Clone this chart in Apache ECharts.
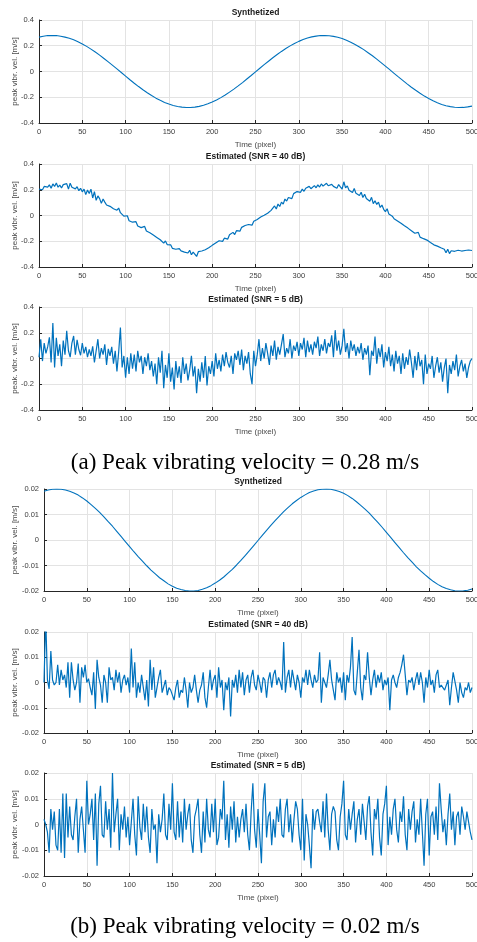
<!DOCTYPE html>
<html>
<head>
<meta charset="utf-8">
<script src="https://cdn.jsdelivr.net/npm/echarts@6/dist/echarts.min.js"></script>
<style>
  html, body { margin: 0; padding: 0; background: #fff; }
  #chart { width: 477px; height: 942px; }
</style>
</head>
<body>
<div id="chart"></div>
<script>
// ---------------- DATA ----------------
// sample spacing (pixel units along the time axis)
const synthStep = 5;
const estStep = 2;

const xTicks = [0, 50, 100, 150, 200, 250, 300, 350, 400, 450, 500];
const yTicksA = [-0.4, -0.2, 0, 0.2, 0.4];
const yTicksB = [-0.02, -0.01, 0, 0.01, 0.02];

const panelTitles = ["Synthetized", "Estimated (SNR = 40 dB)", "Estimated (SNR = 5 dB)",
                     "Synthetized", "Estimated (SNR = 40 dB)", "Estimated (SNR = 5 dB)"];
const yNames = ["peak vibr. vel. [m/s]", "peak vibr. vel. [m/s]", "peak. vibr. vel. [m/s]",
                "peak vibr. vel. [m/s]", "peak vibr. vel. [m/s]", "peak vibr. vel. [m/s]"];
const xName = "Time (pixel)";
const captions = ["(a) Peak vibrating velocity = 0.28 m/s", "(b) Peak vibrating velocity = 0.02 m/s"];

// (a) synthetized, 0.28 m/s, every 5 px
const synthA = [
  0.267, 0.274, 0.279, 0.280, 0.279, 0.274, 0.267, 0.258, 0.246, 0.231,
  0.214, 0.195, 0.174, 0.151, 0.127, 0.101, 0.075, 0.048, 0.020, -0.008,
  -0.036, -0.064, -0.091, -0.117, -0.142, -0.165, -0.187, -0.207, -0.224, -0.240,
  -0.253, -0.264, -0.272, -0.277, -0.280, -0.280, -0.277, -0.271, -0.262, -0.251,
  -0.237, -0.221, -0.203, -0.183, -0.160, -0.137, -0.112, -0.086, -0.058, -0.031,
  -0.003, 0.025, 0.053, 0.080, 0.107, 0.132, 0.156, 0.178, 0.199, 0.218,
  0.234, 0.248, 0.260, 0.269, 0.275, 0.279, 0.280, 0.278, 0.273, 0.266,
  0.256, 0.243, 0.228, 0.210, 0.191, 0.170, 0.146, 0.122, 0.096, 0.069,
  0.042, 0.014, -0.014, -0.042, -0.069, -0.096, -0.122, -0.146, -0.169, -0.191,
  -0.210, -0.228, -0.243, -0.256, -0.266, -0.273, -0.278, -0.280, -0.279, -0.275,
  -0.269
];

// (a) estimated, SNR = 40 dB, every 2 px
const est40A = [
  0.205, 0.218, 0.200, 0.226, 0.214,  0.221, 0.238, 0.212, 0.245, 0.226,
  0.252, 0.220, 0.236, 0.214, 0.240,  0.226, 0.248, 0.205, 0.251, 0.219,
  0.232, 0.207, 0.224, 0.193, 0.211,  0.184, 0.205, 0.162, 0.198, 0.171,
  0.204, 0.136, 0.185, 0.118, 0.152,  0.131, 0.094, 0.128, 0.104, 0.082,
  0.096, 0.071, 0.085, 0.052, 0.064,  0.041, 0.058, 0.022, 0.030, -0.005,
  -0.018, -0.002, -0.041, -0.030, -0.052,  -0.061, -0.048, -0.082, -0.070, -0.094,
  -0.098, -0.085, -0.121, -0.108, -0.134,  -0.139, -0.152, -0.143, -0.170, -0.161,
  -0.188, -0.176, -0.215, -0.198, -0.226,  -0.240, -0.228, -0.255, -0.249, -0.262,
  -0.268, -0.258, -0.275, -0.266, -0.284,  -0.279, -0.291, -0.270, -0.305, -0.284,
  -0.296, -0.318, -0.281, -0.292, -0.276,  -0.284, -0.266, -0.272, -0.251, -0.248,
  -0.232, -0.240, -0.214, -0.225, -0.196,  -0.188, -0.201, -0.176, -0.168, -0.183,
  -0.150, -0.162, -0.131, -0.148, -0.118,  -0.104, -0.122, -0.092, -0.101, -0.078,
  -0.088, -0.070, -0.062, -0.075, -0.045,  -0.048, -0.031, -0.040, -0.012, -0.020,
  0.002, -0.008, 0.018, 0.012, 0.040,  0.036, 0.074, 0.051, 0.089, 0.070,
  0.104, 0.088, 0.128, 0.112, 0.140,  0.152, 0.131, 0.170, 0.158, 0.186,
  0.194, 0.180, 0.205, 0.188, 0.212,  0.201, 0.226, 0.208, 0.219, 0.232,
  0.215, 0.238, 0.221, 0.245, 0.228,  0.222, 0.250, 0.231, 0.217, 0.242,
  0.226, 0.235, 0.212, 0.240, 0.222,  0.205, 0.262, 0.214, 0.230, 0.196,
  0.201, 0.178, 0.210, 0.172, 0.185,  0.156, 0.181, 0.140, 0.165, 0.132,
  0.128, 0.110, 0.141, 0.092, 0.115,  0.086, 0.104, 0.062, 0.081, 0.048,
  0.030, 0.052, 0.011, 0.024, -0.005,  -0.025, -0.012, -0.042, -0.036, -0.060,
  -0.071, -0.080, -0.066, -0.098, -0.110,  -0.118, -0.104, -0.138, -0.146, -0.131,
  -0.168, -0.156, -0.180, -0.172, -0.191,  -0.198, -0.210, -0.205, -0.228, -0.219,
  -0.238, -0.230, -0.251, -0.244, -0.262,  -0.290, -0.262, -0.296, -0.274, -0.285,
  -0.278, -0.292, -0.270, -0.284, -0.276,  -0.288, -0.272, -0.281, -0.268, -0.279,
  -0.272
];

// (a) estimated, SNR = 5 dB, every 2 px
const est5A = [
  0.010, 0.150, -0.020, 0.120, 0.040,  0.090, 0.165, -0.030, 0.275, -0.070,
  0.160, 0.020, 0.110, -0.060, 0.140,  0.030, 0.215, 0.060, 0.010, 0.120,
  0.175, 0.030, 0.145, 0.070, 0.025,  0.120, 0.040, 0.090, 0.010, 0.070,
  0.020, 0.095, -0.030, 0.060, 0.150,  0.000, 0.080, 0.030, 0.110, -0.050,
  0.075, 0.020, 0.090, -0.040, 0.060,  -0.100, 0.050, 0.240, -0.070, 0.020,
  -0.150, 0.010, -0.120, 0.040, -0.080,  0.030, -0.100, 0.060, -0.030, 0.020,
  -0.120, 0.010, -0.060, 0.040, -0.090,  -0.020, -0.140, -0.040, -0.200, 0.010,
  -0.110, 0.060, -0.230, -0.050, -0.150,  0.040, -0.180, -0.070, -0.240, -0.020,
  -0.150, -0.060, -0.190, 0.010, -0.120,  -0.040, -0.170, -0.090, 0.020, -0.140,
  -0.060, -0.270, -0.080, -0.180, -0.030,  -0.150, 0.020, -0.210, -0.060, -0.120,
  -0.020, -0.140, 0.040, -0.080, -0.010,  -0.100, 0.030, -0.060, 0.050, -0.030,
  -0.070, 0.020, -0.120, 0.040, -0.010,  0.060, -0.050, 0.070, -0.090, 0.020,
  -0.040, 0.050, -0.120, -0.200, 0.060,  -0.060, 0.030, 0.150, -0.020, 0.080,
  0.000, 0.120, 0.040, -0.050, 0.100,  0.020, 0.140, -0.010, 0.090, 0.030,
  0.110, 0.190, 0.010, 0.080, 0.040,  0.150, 0.000, 0.100, 0.060, 0.130,
  0.020, 0.120, 0.070, 0.160, 0.010,  0.140, 0.050, 0.110, 0.030, 0.130,
  0.080, 0.170, 0.020, 0.110, 0.060,  0.150, 0.040, 0.120, 0.090, 0.180,
  0.010, 0.220, 0.060, 0.140, 0.030,  0.100, 0.230, 0.050, 0.120, 0.000,
  0.140, 0.060, 0.110, 0.020, 0.090,  0.040, 0.120, -0.010, 0.080, 0.030,
  0.100, -0.130, 0.060, 0.020, 0.170,  -0.040, 0.080, 0.010, 0.110, -0.070,
  0.050, -0.020, 0.090, -0.060, 0.030,  -0.100, 0.060, -0.040, 0.020, -0.120,
  0.040, -0.080, 0.010, -0.050, 0.070,  -0.030, -0.150, 0.020, -0.090, 0.050,
  -0.060, -0.010, -0.200, 0.030, -0.120,  -0.040, -0.080, 0.020, -0.150, -0.060,
  0.010, -0.110, -0.030, -0.180, -0.070,  0.000, -0.270, -0.050, -0.120, -0.020,
  -0.090, 0.030, -0.140, -0.060, -0.010,  -0.100, -0.040, -0.150, -0.070, -0.020,
  0.000
];

// (b) synthetized, 0.02 m/s, every 5 px
const synthB = [
  0.0191, 0.0196, 0.0199, 0.0200, 0.0199, 0.0196, 0.0191, 0.0184, 0.0176, 0.0165,
  0.0153, 0.0139, 0.0124, 0.0108, 0.0091, 0.0072, 0.0054, 0.0034, 0.0014, -0.0006,
  -0.0026, -0.0046, -0.0065, -0.0083, -0.0101, -0.0118, -0.0133, -0.0148, -0.0160, -0.0172,
  -0.0181, -0.0189, -0.0194, -0.0198, -0.0200, -0.0200, -0.0198, -0.0193, -0.0187, -0.0179,
  -0.0169, -0.0158, -0.0145, -0.0130, -0.0115, -0.0098, -0.0080, -0.0061, -0.0042, -0.0022,
  -0.0002, 0.0018, 0.0038, 0.0057, 0.0076, 0.0094, 0.0111, 0.0127, 0.0142, 0.0155,
  0.0167, 0.0177, 0.0186, 0.0192, 0.0197, 0.0199, 0.0200, 0.0199, 0.0195, 0.0190,
  0.0183, 0.0174, 0.0163, 0.0150, 0.0136, 0.0121, 0.0105, 0.0087, 0.0069, 0.0050,
  0.0030, 0.0010, -0.0010, -0.0030, -0.0050, -0.0069, -0.0087, -0.0105, -0.0121, -0.0136,
  -0.0150, -0.0163, -0.0174, -0.0183, -0.0190, -0.0195, -0.0199, -0.0200, -0.0199, -0.0197,
  -0.0192
];

// (b) estimated, SNR = 40 dB, every 2 px
const est40B = [
  0.000, 0.026, 0.001, -0.0025, 0.0125,  0.001, -0.001, 0.000, 0.007, -0.001,
  0.005, 0.001, 0.003, -0.002, 0.008,  -0.006, 0.008, 0.001, -0.003, 0.000,
  0.0075, -0.008, 0.006, 0.002, 0.007,  0.000, 0.0015, -0.002, -0.005, 0.004,
  -0.0105, 0.009, 0.002, -0.001, -0.008,  0.003, 0.000, -0.008, 0.006, 0.001,
  0.002, -0.003, 0.005, 0.000, 0.004,  -0.004, 0.001, 0.003, -0.001, 0.002,
  -0.004, 0.0135, -0.002, 0.008, -0.006,  0.000, -0.004, 0.003, -0.002, -0.007,
  0.001, -0.0095, 0.009, -0.003, 0.006,  -0.006, -0.002, 0.002, 0.005, -0.004,
  -0.004, 0.001, -0.005, -0.002, -0.003,  -0.003, -0.007, -0.002, 0.001, -0.006,
  -0.003, -0.004, 0.002, -0.003, -0.010,  0.000, -0.004, -0.002, 0.003, -0.003,
  -0.008, -0.003, -0.001, 0.004, -0.006,  -0.010, -0.002, 0.005, -0.003, 0.001,
  0.003, -0.006, 0.006, -0.002, 0.001,  -0.011, 0.000, -0.003, 0.002, -0.0135,
  0.001, -0.002, 0.003, -0.004, 0.005,  -0.002, 0.004, -0.005, 0.001, 0.003,
  -0.004, 0.002, 0.005, -0.001, -0.003,  0.003, 0.000, -0.004, 0.002, 0.001,
  -0.006, 0.001, 0.004, -0.002, 0.003,  0.005, -0.001, 0.002, 0.000, -0.003,
  0.016, -0.004, 0.002, 0.005, -0.002,  0.005, 0.001, -0.003, 0.003, 0.000,
  -0.006, 0.002, 0.000, 0.005, -0.001,  0.005, 0.001, -0.002, 0.003, 0.000,
  0.001, 0.012, -0.008, 0.002, 0.000,  -0.002, 0.003, 0.009, 0.001, -0.003,
  -0.007, 0.004, 0.000, 0.002, -0.004,  0.004, -0.007, 0.003, 0.000, 0.006,
  0.018, -0.003, -0.005, 0.004, 0.013,  -0.002, -0.007, 0.003, 0.001, 0.012,
  0.002, -0.005, 0.001, 0.005, -0.002,  0.003, 0.000, 0.004, -0.003, 0.001,
  -0.001, 0.002, -0.011, 0.001, 0.003,  0.000, -0.002, 0.002, 0.004, 0.007,
  0.011, 0.003, -0.005, 0.001, 0.000,  0.002, -0.003, 0.001, 0.004, -0.001,
  0.004, 0.000, -0.008, 0.002, -0.002,  0.005, -0.001, 0.001, -0.004, 0.003,
  0.005, -0.002, -0.001, -0.002, -0.003,  -0.003, 0.001, -0.009, -0.002, 0.004,
  0.004, -0.003, -0.008, 0.000, -0.004,  -0.006, -0.002, -0.003, 0.000, -0.004,
  -0.002
];

// (b) estimated, SNR = 5 dB, every 2 px
const est5B = [
  0.002, 0.000, -0.003, -0.011, 0.006,  -0.002, 0.005, -0.008, -0.010, 0.006,
  -0.011, 0.012, -0.013, 0.012, -0.005,  0.007, -0.004, -0.006, 0.003, 0.010,
  -0.011, 0.002, 0.007, -0.002, -0.011,  0.017, 0.000, 0.004, 0.010, -0.006,
  0.012, -0.016, 0.008, 0.015, -0.004,  -0.005, 0.009, -0.002, 0.006, -0.009,
  0.020, -0.003, 0.004, 0.010, -0.010,  0.004, -0.002, 0.007, -0.005, 0.003,
  -0.008, 0.001, 0.010, -0.004, -0.012,  0.011, -0.001, -0.006, 0.008, -0.003,
  0.007, -0.005, -0.011, 0.006, -0.002,  0.000, -0.015, 0.004, -0.003, 0.002,
  0.012, -0.004, -0.006, 0.008, -0.002,  0.016, -0.003, -0.006, 0.009, -0.005,
  0.005, -0.007, 0.010, -0.002, 0.004,  0.008, -0.006, -0.011, 0.003, 0.006,
  0.010, -0.004, -0.011, 0.005, -0.007,  0.010, -0.002, -0.005, 0.008, -0.003,
  0.010, -0.008, -0.005, 0.006, 0.002,  0.017, -0.006, 0.004, -0.009, 0.007,
  -0.002, 0.009, -0.007, 0.003, -0.005,  0.002, 0.006, -0.003, 0.008, -0.004,
  -0.010, 0.005, 0.016, -0.002, -0.009,  0.006, -0.004, -0.015, 0.009, 0.016,
  -0.005, 0.003, 0.005, -0.008, 0.002,  -0.005, 0.007, 0.001, 0.010, -0.004,
  -0.005, 0.006, 0.010, -0.003, 0.004,  -0.007, 0.002, 0.009, 0.006, -0.004,
  -0.010, 0.010, -0.014, 0.004, 0.000,  -0.008, -0.017, 0.006, -0.002, 0.005,
  0.006, 0.001, -0.003, 0.009, -0.005,  0.012, -0.002, -0.010, 0.004, 0.007,
  0.005, -0.006, -0.010, 0.003, 0.008,  0.017, -0.004, -0.006, 0.006, -0.002,
  0.004, 0.009, -0.007, 0.002, 0.006,  -0.004, 0.008, 0.001, -0.006, 0.007,
  0.011, -0.003, -0.012, 0.006, 0.002,  0.010, -0.005, -0.012, 0.004, 0.008,
  0.015, -0.008, 0.003, -0.004, 0.006,  0.010, -0.002, -0.007, 0.005, 0.001,
  0.011, -0.004, -0.010, 0.006, -0.002,  0.005, 0.009, -0.007, 0.002, -0.004,
  0.010, -0.003, -0.016, 0.004, 0.010,  -0.012, 0.003, 0.005, -0.004, 0.007,
  -0.006, 0.016, 0.006, -0.003, 0.002,  -0.008, 0.004, 0.012, -0.002, 0.005,
  -0.008, 0.003, 0.005, -0.004, 0.007,  0.003, -0.002, 0.005, 0.001, -0.003,
  -0.006
];

// ---------------- LAYOUT / STYLE ----------------
const lineColor = '#0072BD';
const axisColor = '#262626';
const labelColor = '#3c3c3c';
const gridColor = '#e3e3e3';

const grids = [
  { left: 39, top: 20,  width: 433, height: 103 },
  { left: 39, top: 164, width: 433, height: 103 },
  { left: 39, top: 307, width: 433, height: 103 },
  { left: 44, top: 489, width: 428, height: 102 },
  { left: 44, top: 632, width: 428, height: 101 },
  { left: 44, top: 773, width: 428, height: 103 }
];

const panels = [
  { values: synthA, step: synthStep, ticks: yTicksA, lw: 1.1, nameGap: 20 },
  { values: est40A, step: estStep, ticks: yTicksA, lw: 1.2, nameGap: 20 },
  { values: est5A,  step: estStep, ticks: yTicksA, lw: 1.2, nameGap: 20 },
  { values: synthB, step: synthStep, ticks: yTicksB, lw: 1.1, nameGap: 25 },
  { values: est40B, step: estStep, ticks: yTicksB, lw: 1.2, nameGap: 25 },
  { values: est5B,  step: estStep, ticks: yTicksB, lw: 1.2, nameGap: 25 }
];

const sansFont = '"Liberation Sans", Arial, Helvetica, sans-serif';

const xAxes = [], yAxes = [], series = [], graphics = [];
panels.forEach((p, i) => {
  const yt = p.ticks;
  const yInterval = Math.round((yt[1] - yt[0]) * 1e6) / 1e6;
  xAxes.push({
    type: 'value', gridIndex: i,
    min: xTicks[0], max: xTicks[xTicks.length - 1], interval: xTicks[1] - xTicks[0],
    name: xName, nameLocation: 'middle', nameGap: 18, nameMoveOverlap: false,
    nameTextStyle: { fontFamily: sansFont, fontSize: 8, color: '#4a4a4a' },
    axisLine: { show: true, onZero: false, lineStyle: { color: axisColor, width: 1 } },
    axisTick: { show: true, inside: true, length: 3, lineStyle: { color: axisColor } },
    axisLabel: { show: true, margin: 5, fontFamily: sansFont, fontSize: 7.5, color: labelColor,
      hideOverlap: false },
    splitLine: { show: true, lineStyle: { color: gridColor, width: 1 } }
  });
  yAxes.push({
    type: 'value', gridIndex: i,
    min: yt[0], max: yt[yt.length - 1], interval: yInterval,
    name: yNames[i], nameLocation: 'middle', nameGap: p.nameGap, nameRotate: 90,
    nameMoveOverlap: false,
    nameTextStyle: { fontFamily: sansFont, fontSize: 8, color: '#4a4a4a' },
    axisLine: { show: true, onZero: false, lineStyle: { color: axisColor, width: 1 } },
    axisTick: { show: true, inside: true, length: 3, lineStyle: { color: axisColor } },
    axisLabel: { show: true, margin: 5, fontFamily: sansFont, fontSize: 7.5, color: labelColor,
      formatter: v => String(Math.round(v * 1000) / 1000) },
    splitLine: { show: true, lineStyle: { color: gridColor, width: 1 } }
  });
  series.push({
    type: 'line', xAxisIndex: i, yAxisIndex: i,
    data: p.values.map((v, k) => [k * p.step, v]),
    showSymbol: false, symbol: 'none', clip: true,
    lineStyle: { color: lineColor, width: p.lw },
    animation: false
  });
  const g = grids[i];
  graphics.push({
    type: 'text', x: g.left + g.width / 2, y: g.top - 7,
    style: { text: panelTitles[i], textAlign: 'center', textVerticalAlign: 'middle',
      font: 'bold 8.5px ' + sansFont, fill: '#1a1a1a' }
  });
});

graphics.push({
  type: 'text', x: 245, y: 463,
  style: { text: captions[0], textAlign: 'center', textVerticalAlign: 'middle',
    font: '23px "Liberation Serif", "Times New Roman", serif', fill: '#000' }
});
graphics.push({
  type: 'text', x: 245, y: 927,
  style: { text: captions[1], textAlign: 'center', textVerticalAlign: 'middle',
    font: '23px "Liberation Serif", "Times New Roman", serif', fill: '#000' }
});

const chart = echarts.init(document.getElementById('chart'), null, { renderer: 'canvas' });
chart.setOption({
  backgroundColor: '#ffffff',
  animation: false,
  grid: grids.map(g => Object.assign({ containLabel: false, outerBoundsMode: 'none' }, g)),
  xAxis: xAxes,
  yAxis: yAxes,
  series: series,
  graphic: graphics
});
</script>
</body>
</html>
